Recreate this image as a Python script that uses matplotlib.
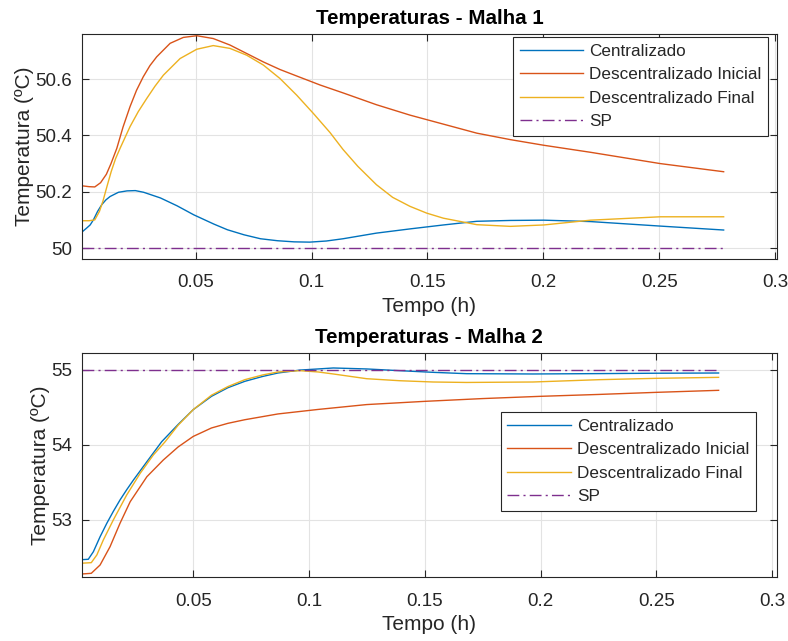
import numpy as np
import matplotlib
matplotlib.use("Agg")
import matplotlib.pyplot as plt

plt.rcParams['font.family'] = ['Liberation Sans', 'DejaVu Sans']

# ---------------- Malha 1 ----------------
t1_cent = [0.001, 0.003, 0.0045, 0.0059, 0.0077, 0.0095, 0.0113, 0.0131, 0.0167,
           0.0204, 0.024, 0.0276, 0.0348, 0.042, 0.0492, 0.0579, 0.0637, 0.0709,
           0.078, 0.0853, 0.0925, 0.0992, 0.1064, 0.1136, 0.128, 0.1425, 0.1569,
           0.1713, 0.1858, 0.2002, 0.2204, 0.2504, 0.2778]
cent1 = [50.057, 50.071, 50.082, 50.100, 50.130, 50.154, 50.171, 50.183, 50.198,
         50.203, 50.204, 50.198, 50.178, 50.150, 50.118, 50.085, 50.065, 50.047,
         50.033, 50.026, 50.022, 50.021, 50.025, 50.033, 50.053, 50.068, 50.082,
         50.095, 50.098, 50.099, 50.094, 50.078, 50.064]

t1_dini = [0.001, 0.004, 0.0065, 0.009, 0.0115, 0.0135, 0.016, 0.0187, 0.0217,
           0.0245, 0.0274, 0.0303, 0.0332, 0.039, 0.0447, 0.0505, 0.0576, 0.0648,
           0.072, 0.0792, 0.0864, 0.0936, 0.1037, 0.1136, 0.128, 0.1425, 0.1569,
           0.1713, 0.1858, 0.2002, 0.2204, 0.2504, 0.2778]
dini1 = [50.221, 50.218, 50.217, 50.232, 50.262, 50.300, 50.354, 50.430, 50.502,
         50.560, 50.608, 50.648, 50.679, 50.727, 50.748, 50.754, 50.744, 50.721,
         50.691, 50.661, 50.634, 50.611, 50.579, 50.551, 50.509, 50.472, 50.440,
         50.408, 50.385, 50.365, 50.340, 50.300, 50.271]

t1_dfin = [0.001, 0.004, 0.0065, 0.0085, 0.010, 0.0118, 0.0136, 0.0155, 0.0174,
           0.0217, 0.0253, 0.0289, 0.0325, 0.0361, 0.0433, 0.0505, 0.0576, 0.0648,
           0.072, 0.0792, 0.0864, 0.0936, 0.1008, 0.108, 0.1136, 0.120, 0.128,
           0.135, 0.1425, 0.1497, 0.1569, 0.1713, 0.1858, 0.2002, 0.2204, 0.2504,
           0.2778]
dfin1 = [50.097, 50.097, 50.100, 50.130, 50.166, 50.220, 50.272, 50.318, 50.354,
         50.431, 50.485, 50.531, 50.575, 50.614, 50.673, 50.706, 50.719, 50.709,
         50.685, 50.650, 50.602, 50.543, 50.478, 50.410, 50.350, 50.290, 50.225,
         50.180, 50.148, 50.124, 50.106, 50.083, 50.077, 50.082, 50.099, 50.111,
         50.111]
sp1 = 50.0

# ---------------- Malha 2 ----------------
t2_cent = [0.002, 0.0047, 0.0069, 0.0098, 0.0127, 0.0155, 0.0184, 0.0213, 0.0242,
           0.030, 0.0364, 0.0435, 0.050, 0.0579, 0.065, 0.0723, 0.080, 0.0866,
           0.0961, 0.1039, 0.1105, 0.1249, 0.1392, 0.1536, 0.168, 0.1967, 0.2254,
           0.250, 0.2769]
cent2 = [52.467, 52.472, 52.573, 52.773, 52.952, 53.110, 53.263, 53.400, 53.529,
         53.773, 54.040, 54.270, 54.467, 54.645, 54.760, 54.845, 54.910, 54.956,
         54.995, 55.010, 55.023, 55.010, 54.987, 54.965, 54.947, 54.943, 54.948,
         54.953, 54.956]

t2_dini = [0.002, 0.006, 0.0098, 0.0141, 0.0184, 0.0228, 0.030, 0.0371, 0.0435,
           0.050, 0.0579, 0.065, 0.0723, 0.0866, 0.1039, 0.1249, 0.150, 0.175,
           0.200, 0.225, 0.250, 0.2769]
dini2 = [52.276, 52.285, 52.396, 52.640, 52.952, 53.240, 53.573, 53.796, 53.970,
         54.110, 54.223, 54.285, 54.333, 54.410, 54.470, 54.535, 54.578, 54.615,
         54.645, 54.670, 54.698, 54.725]

t2_dfin = [0.002, 0.006, 0.0084, 0.0112, 0.0155, 0.0213, 0.0271, 0.0328, 0.0379,
           0.0435, 0.050, 0.0579, 0.065, 0.0723, 0.080, 0.0866, 0.0961, 0.1039,
           0.1105, 0.1249, 0.1392, 0.1536, 0.168, 0.1967, 0.2254, 0.250, 0.2769]
dfin2 = [52.420, 52.427, 52.530, 52.730, 52.996, 53.330, 53.618, 53.863, 54.040,
         54.260, 54.467, 54.660, 54.775, 54.867, 54.930, 54.970, 54.987, 54.970,
         54.943, 54.880, 54.853, 54.836, 54.830, 54.836, 54.867, 54.885, 54.898]
sp2 = 55.0

labels = ['Centralizado', 'Descentralizado Inicial', 'Descentralizado Final', 'SP']
cores = ['#0072BD', '#D95319', '#EDB120', '#7E2F8E']
xticks = [0.05, 0.1, 0.15, 0.2, 0.25, 0.3]
xtick_labels = ['0.05', '0.1', '0.15', '0.2', '0.25', '0.3']

txt = '#262626'

fig = plt.figure(figsize=(7.88, 6.41), dpi=100)
ax1 = fig.add_axes([0.1041, 0.5959, 0.8816, 0.3510])
ax2 = fig.add_axes([0.1041, 0.0994, 0.8816, 0.3504])


def desenha(ax, curvas, sp, titulo, xlim, ylim, yticks, ylabs, leg_anchor):
    for (t, y), c, lab in zip(curvas, cores[:3], labels[:3]):
        ax.plot(t, y, color=c, lw=1.0, label=lab)
    t0 = min(c[0][0] for c in curvas)
    t_fim = max(c[0][-1] for c in curvas)
    ln, = ax.plot([t0, t_fim], [sp, sp], color=cores[3], lw=1.0, label=labels[3])
    ln.set_dashes((8.5, 3, 1.5, 3))
    ax.set_xlim(*xlim)
    ax.set_ylim(*ylim)
    ax.set_xticks(xticks)
    ax.set_xticklabels(xtick_labels)
    ax.set_yticks(yticks)
    ax.set_yticklabels(ylabs)
    ax.grid(True, color='#e3e3e3', lw=0.8)
    ax.set_axisbelow(True)
    ax.tick_params(direction='in', length=5, width=0.8, colors=txt,
                   labelsize=13.5, top=True, right=True)
    ax.tick_params(axis='x', pad=11)
    ax.tick_params(axis='y', pad=7)
    for s in ax.spines.values():
        s.set_color(txt)
        s.set_linewidth(0.8)
    ax.set_xlabel('Tempo (h)', fontsize=15, color=txt, labelpad=4)
    ax.set_ylabel('Temperatura (ºC)', fontsize=15, color=txt, labelpad=1)
    ax.set_title(titulo, fontsize=14.8, fontweight='bold', pad=7)
    leg = ax.legend(loc='upper right', bbox_to_anchor=leg_anchor, fontsize=12.3,
                    fancybox=False, framealpha=1, edgecolor='#262626',
                    handlelength=3.7, handletextpad=0.35, labelspacing=0.49,
                    borderpad=0.4, borderaxespad=0)
    leg.get_frame().set_linewidth(0.8)
    for tx in leg.get_texts():
        tx.set_color(txt)


desenha(ax1, [(t1_cent, cent1), (t1_dini, dini1), (t1_dfin, dfin1)], sp1,
        'Temperaturas - Malha 1', (0.001, 0.3007), (49.961, 50.760),
        [50, 50.2, 50.4, 50.6], ['50', '50.2', '50.4', '50.6'], (0.9875, 0.987))
desenha(ax2, [(t2_cent, cent2), (t2_dini, dini2), (t2_dfin, dfin2)], sp2,
        'Temperaturas - Malha 2', (0.002, 0.302), (52.232, 55.227),
        [53, 54, 55], ['53', '54', '55'], (0.970, 0.736))

fig.savefig('out.png', dpi=100)
